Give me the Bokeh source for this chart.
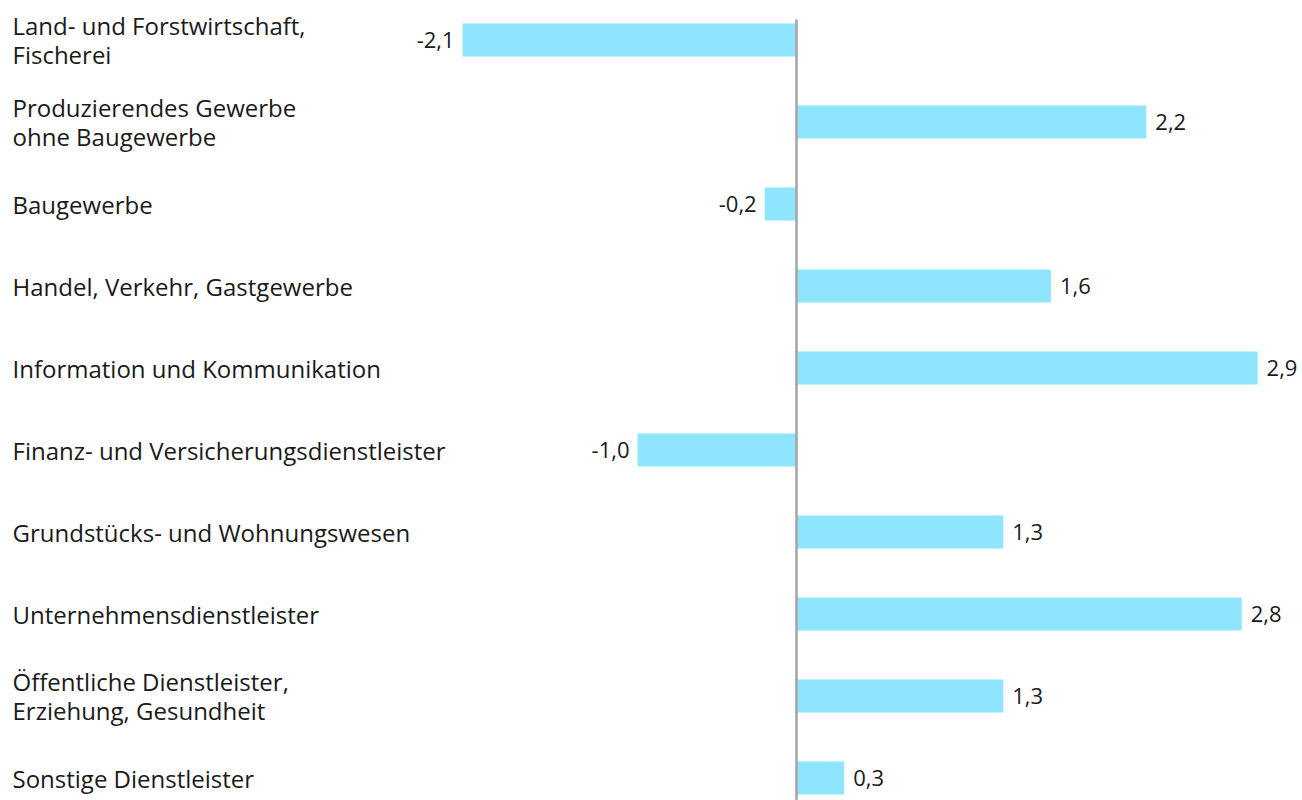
from bokeh.plotting import figure
from bokeh.models import Range1d, ColumnDataSource
from bokeh.core.properties import value
from bokeh.embed import file_html
from bokeh.resources import INLINE

categories = [
    "Land- und Forstwirtschaft,\nFischerei",
    "Produzierendes Gewerbe\nohne Baugewerbe",
    "Baugewerbe",
    "Handel, Verkehr, Gastgewerbe",
    "Information und Kommunikation",
    "Finanz- und Versicherungsdienstleister",
    "Grundstücks- und Wohnungswesen",
    "Unternehmensdienstleister",
    "Öffentliche Dienstleister,\nErziehung, Gesundheit",
    "Sonstige Dienstleister",
]
values = [-2.1, 2.2, -0.2, 1.6, 2.9, -1.0, 1.3, 2.8, 1.3, 0.3]
value_labels = ["-2,1", "2,2", "-0,2", "1,6", "2,9", "-1,0", "1,3", "2,8", "1,3", "0,3"]

W, H = 1302, 800
PX_PER_UNIT = 159.0
ZERO_PX = 796
ROW_PX = 82
FIRST_ROW_PX = 39.5
BAR_H = 33 / ROW_PX

n = len(categories)
rows = list(range(n))

p = figure(width=W, height=H, output_backend="svg", toolbar_location=None,
           x_range=Range1d(-ZERO_PX / PX_PER_UNIT, (W - ZERO_PX) / PX_PER_UNIT),
           y_range=Range1d(n - 1 + (H - FIRST_ROW_PX - (n - 1) * ROW_PX) / ROW_PX,
                           -FIRST_ROW_PX / ROW_PX),
           min_border=0)
p.axis.visible = False
p.grid.visible = False
p.outline_line_color = None
p.background_fill_color = "white"
p.border_fill_color = "white"

src = ColumnDataSource(dict(
    y=rows, v=values, cat=categories, lab=value_labels,
    left=[min(0, v) for v in values], right=[max(0, v) for v in values],
))
pos = ColumnDataSource(dict(
    y=[r for r, v in zip(rows, values) if v >= 0],
    v=[v for v in values if v >= 0],
    lab=[l for l, v in zip(value_labels, values) if v >= 0],
))
neg = ColumnDataSource(dict(
    y=[r for r, v in zip(rows, values) if v < 0],
    v=[v for v in values if v < 0],
    lab=[l for l, v in zip(value_labels, values) if v < 0],
))

p.hbar(y="y", left="left", right="right", height=BAR_H, source=src,
       fill_color="#8ee5fd", line_color=None)

x_left = p.x_range.start
p.segment(x0=0, x1=0, y0=-BAR_H / 2 - 4 / ROW_PX, y1=n, line_color="#a3a3a3", line_width=2.5)

font = value("Open Sans")
p.text(x=x_left, y="y", text="cat", source=src, x_offset=12,
       text_font=font, text_font_size="24px", text_color="#1a1a1a",
       text_align="left", text_baseline="middle", text_line_height=0.86)

p.text(x="v", y="y", text="lab", source=pos, x_offset=9,
       text_font=font, text_font_size="22px", text_color="#1a1a1a",
       text_align="left", text_baseline="middle")
p.text(x="v", y="y", text="lab", source=neg, x_offset=-8,
       text_font=font, text_font_size="22px", text_color="#1a1a1a",
       text_align="right", text_baseline="middle")

open("out.html", "w").write(file_html(p, INLINE))
